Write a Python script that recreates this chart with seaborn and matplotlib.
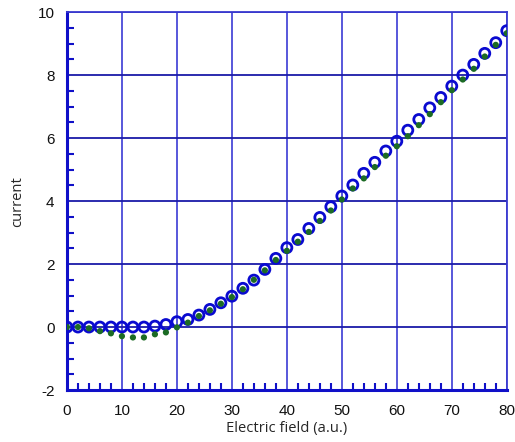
import numpy as np
import pandas as pd
import matplotlib
matplotlib.use("Agg")
import matplotlib.pyplot as plt
import seaborn as sns
from matplotlib.ticker import MultipleLocator

field = list(range(0, 81, 2))
current_open = [0, 0, 0, 0, 0, 0, 0, 0, 0.03, 0.08, 0.17, 0.24, 0.38, 0.56, 0.77,
                0.98, 1.23, 1.49, 1.83, 2.18, 2.52, 2.78, 3.13, 3.48, 3.82, 4.16,
                4.51, 4.88, 5.23, 5.59, 5.9, 6.25, 6.59, 6.96, 7.29, 7.65, 8.0,
                8.34, 8.69, 9.03, 9.41]
current_dot = [0, 0, -0.04, -0.13, -0.2, -0.29, -0.33, -0.33, -0.23, -0.17, -0.01,
               0.14, 0.35, 0.53, 0.74, 0.95, 1.2, 1.5, 1.8, 2.13, 2.42, 2.71, 3.02,
               3.37, 3.7, 4.05, 4.4, 4.72, 5.08, 5.44, 5.74, 6.06, 6.41, 6.76, 7.14,
               7.52, 7.86, 8.2, 8.59, 8.96, 9.33]

df = pd.DataFrame({"field": field, "open": current_open, "dot": current_dot})

sns.set_style("white")
plt.rcParams['font.family'] = ['Liberation Sans', 'DejaVu Sans']
plt.rcParams['axes.unicode_minus'] = False

fig = plt.figure(figsize=(5.15, 4.42), dpi=100)
ax = fig.add_axes([0.130, 0.1176, 0.854, 0.855])

# grid
for v in range(10, 81, 10):
    ax.axvline(v, color='#4a4ad8', lw=1.3, zorder=1)
for h in range(0, 11, 2):
    ax.axhline(h, color='#1a1aa8', lw=1.3, zorder=1)

sns.scatterplot(data=df, x="field", y="open", ax=ax, marker='o', s=52,
                facecolors='none', edgecolor='#0a0ad0', linewidth=2.0, zorder=3)
sns.scatterplot(data=df, x="field", y="dot", ax=ax, marker='o', s=20,
                color='#1c6b24', edgecolor='none', linewidth=0, zorder=4)

ax.set_xlim(0, 80)
ax.set_ylim(-2, 10)
ax.xaxis.set_major_locator(MultipleLocator(10))
ax.xaxis.set_minor_locator(MultipleLocator(2))
ax.yaxis.set_major_locator(MultipleLocator(2))
ax.yaxis.set_minor_locator(MultipleLocator(0.5))

for side in ['left', 'bottom']:
    ax.spines[side].set_color('#1010c8')
    ax.spines[side].set_linewidth(2.2)
for side in ['top', 'right']:
    ax.spines[side].set_color('#3a3ad0')
    ax.spines[side].set_linewidth(1.3)

ax.tick_params(which='both', bottom=True, left=True, top=False, right=False)
ax.tick_params(which='major', direction='in', length=0, labelsize=11,
               labelcolor='#111111')
ax.tick_params(axis='x', which='major', pad=10)
ax.tick_params(axis='y', which='major', pad=9)
ax.tick_params(which='minor', direction='in', length=5, width=1.5,
               color='#1010c8')

ax.set_xlabel("Electric field (a.u.)", fontsize=10.6, family=['Open Sans', 'DejaVu Sans'],
              labelpad=2)
ax.set_ylabel("current", fontsize=10.6, family=['Open Sans', 'DejaVu Sans'], labelpad=9)

fig.savefig("out.png", dpi=100)
